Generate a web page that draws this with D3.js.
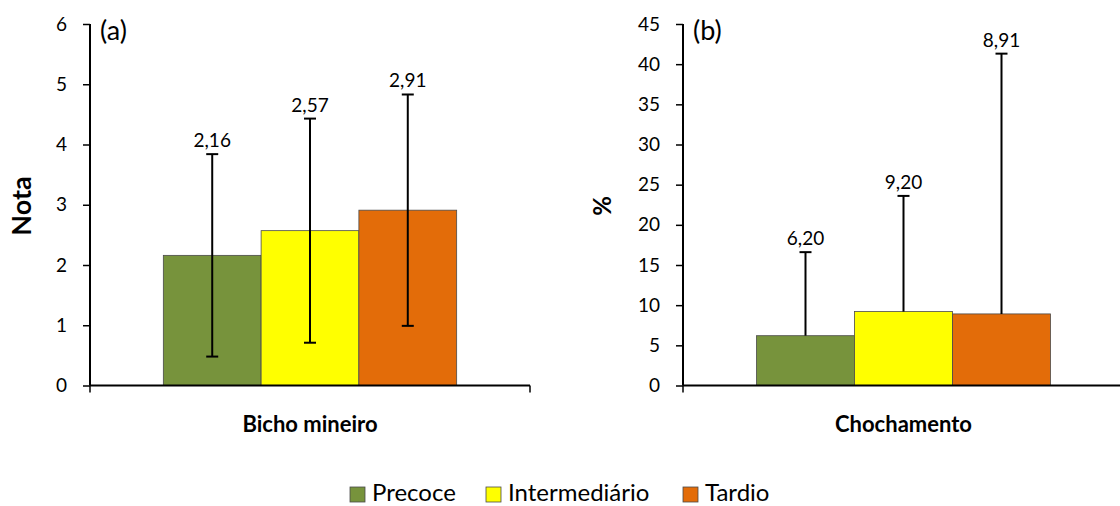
<!DOCTYPE html>
<html lang="pt">
<head>
<meta charset="utf-8">
<script src="https://d3js.org/d3.v7.min.js"></script>
<style>
  body { margin: 0; background: #fff; }
  text { font-family: Lato, "Open Sans", sans-serif; fill: #000; }
</style>
</head>
<body>
<script>
// chart size
const w = 1120
const h = 506

// data
const series = ["Precoce", "Intermediário", "Tardio"]
const colors = ["#77933C", "#FFFF00", "#E36C09"]

const valuesA = [2.16, 2.57, 2.91]
const errA = [1.68, 1.86, 1.92]
const ticksA = [0, 1, 2, 3, 4, 5, 6]

const valuesB = [6.20, 9.20, 8.91]
const errB = [10.4, 14.4, 32.4]
const ticksB = [0, 5, 10, 15, 20, 25, 30, 35, 40, 45]

const fmt = v => v.toFixed(2).replace(".", ",")

let svg = d3.select("body")
    .append("svg")
    .attr("width", w)
    .attr("height", h)

function panel(opt) {
    let g = svg.append("g")

    let yScale = d3.scaleLinear()
        .domain([0, opt.max])
        .range([385.5, 24])

    let xScale = d3.scaleBand()
        .domain([opt.category])
        .range([opt.x0, opt.x1])
        .paddingInner(0)
        .paddingOuter(0.25)

    let inner = d3.scaleBand()
        .domain(series)
        .range([0, xScale.bandwidth()])

    // bars first
    g.selectAll("rect")
        .data(opt.values)
        .enter()
        .append("rect")
        .attr("x", (d, i) => xScale(opt.category) + inner(series[i]))
        .attr("width", inner.bandwidth())
        .attr("y", d => yScale(d))
        .attr("height", d => yScale(0) - yScale(d))
        .attr("fill", (d, i) => colors[i])
        .attr("stroke", "#4a4a4a")
        .attr("stroke-width", 0.8)

    // error bars
    let cx = i => xScale(opt.category) + inner(series[i]) + inner.bandwidth() / 2
    opt.values.forEach((v, i) => {
        let top = v + opt.err[i]
        let bottom = opt.plusOnly ? v : Math.max(0, v - opt.err[i])
        g.append("line")
            .attr("x1", cx(i)).attr("x2", cx(i))
            .attr("y1", yScale(top)).attr("y2", yScale(bottom))
            .attr("stroke", "#000").attr("stroke-width", 2)
        g.append("line")
            .attr("x1", cx(i) - 6).attr("x2", cx(i) + 6)
            .attr("y1", yScale(top)).attr("y2", yScale(top))
            .attr("stroke", "#000").attr("stroke-width", 2)
        if (!opt.plusOnly) {
            g.append("line")
                .attr("x1", cx(i) - 6).attr("x2", cx(i) + 6)
                .attr("y1", yScale(bottom)).attr("y2", yScale(bottom))
                .attr("stroke", "#000").attr("stroke-width", 2)
        }
        g.append("text")
            .attr("x", cx(i))
            .attr("y", yScale(top) - 7)
            .attr("text-anchor", "middle")
            .attr("font-size", "19px")
            .text(fmt(v))
    })

    // axes
    let yaxis = d3.axisLeft(yScale)
        .tickValues(opt.ticks)
        .tickSize(7)
        .tickPadding(16)
        .tickFormat(d3.format("d"))

    let ya = g.append("g")
        .attr("transform", "translate(" + opt.x0 + ",0)")
        .call(yaxis)
    ya.select(".domain").attr("stroke-width", 2).attr("d", "M0,385.5V24")
    ya.selectAll(".tick line").attr("stroke-width", 1.5)
    ya.selectAll("text").attr("font-size", "19px").attr("font-family", "Lato, sans-serif")

    let xa = g.append("g")
        .attr("transform", "translate(0,385.5)")
    xa.append("line")
        .attr("x1", opt.x0).attr("x2", opt.x1)
        .attr("stroke", "#000").attr("stroke-width", 2)
    ;[opt.x0, opt.x1].forEach(x => {
        xa.append("line")
            .attr("x1", x).attr("x2", x).attr("y1", 0).attr("y2", 7)
            .attr("stroke", "#000").attr("stroke-width", 1.5)
    })

    g.append("text")
        .attr("x", xScale(opt.category) + xScale.bandwidth() / 2)
        .attr("y", 432)
        .attr("text-anchor", "middle")
        .attr("font-weight", "bold")
        .attr("font-size", "22px")
        .text(opt.category)

    g.append("text")
        .attr("transform", "translate(" + opt.titleX + ",206) rotate(-90)")
        .attr("text-anchor", "middle")
        .attr("font-weight", "bold")
        .attr("font-size", opt.titleSize)
        .text(opt.title)

    g.append("text")
        .attr("x", opt.x0 + 10)
        .attr("y", 40)
        .attr("font-size", "27px")
        .text(opt.letter)
}

panel({ category: "Bicho mineiro", values: valuesA, err: errA, ticks: ticksA, max: 6,
        x0: 90, x1: 530, title: "Nota", titleX: 31, titleSize: "27px", letter: "(a)", plusOnly: false })
panel({ category: "Chochamento", values: valuesB, err: errB, ticks: ticksB, max: 45,
        x0: 683, x1: 1124, title: "%", titleX: 611, titleSize: "24px", letter: "(b)", plusOnly: true })

// legend
const legendX = [350, 486, 683]
let leg = svg.append("g")
series.forEach((s, i) => {
    leg.append("rect")
        .attr("x", legendX[i]).attr("y", 487)
        .attr("width", 15).attr("height", 15)
        .attr("fill", colors[i])
        .attr("stroke", "#4a4a4a").attr("stroke-width", 0.8)
    leg.append("text")
        .attr("x", legendX[i] + 22).attr("y", 501)
        .attr("font-size", "24px")
        .text(s)
})
</script>
</body>
</html>
